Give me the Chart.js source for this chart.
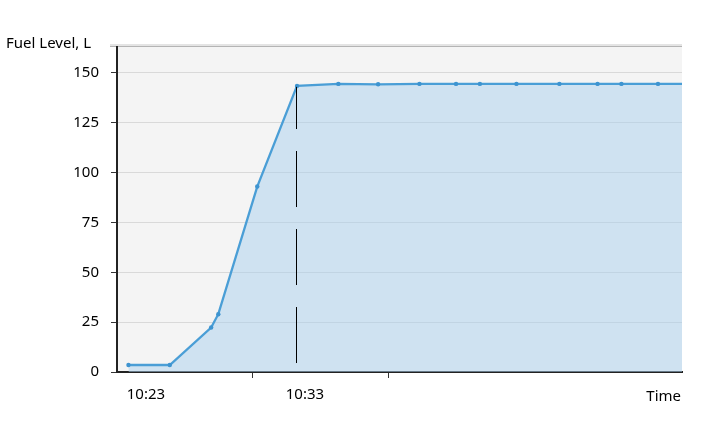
<!DOCTYPE html>
<html>
<head>
<meta charset="utf-8">
<script src="https://cdn.jsdelivr.net/npm/chart.js@4"></script>
<style>
  html, body { margin: 0; padding: 0; background: #fff; }
  #wrap { width: 711px; height: 423px; }
</style>
</head>
<body>
<div id="wrap"><canvas id="myChart" width="711" height="423"></canvas></div>
<script>
// minutes after 10:00
const timeMinutes = [21.9, 24.5, 27.1, 27.55, 30.0, 32.5, 35.1, 37.6, 40.2, 42.5, 44.0, 46.3, 49.0, 51.4, 52.9, 55.2, 57.5];
const fuelLevel = [3.5, 3.5, 22.3, 29, 93, 143.5, 144.5, 144.3, 144.5, 144.5, 144.5, 144.5, 144.5, 144.5, 144.5, 144.5, 144.5];

const xLabelTicks = [23, 33];
const xMarkTicks = [29.68, 38.25];
const yTicks = [0, 25, 50, 75, 100, 125, 150];

// vertical dashed marker
const markerTime = 32.45;
const markerFrom = 4.5;
const markerTo = 143;

const fmtTime = v => '10:' + String(Math.round(v)).padStart(2, '0');

const FONT = '"Noto Sans", "Open Sans", sans-serif';

const plotDecor = {
  id: 'plotDecor',
  beforeDraw(chart) {
    const { ctx, chartArea: a } = chart;
    ctx.save();
    ctx.fillStyle = '#f4f4f4';
    ctx.fillRect(a.left, a.top, a.right - a.left, a.bottom - a.top);
    ctx.fillStyle = '#e4e4e4';
    ctx.fillRect(a.left - 7, a.top - 3, a.right - a.left + 7, 2);
    ctx.fillStyle = '#b4b4b4';
    ctx.fillRect(a.left - 7, a.top - 1, a.right - a.left + 7, 1);
    ctx.restore();
  },
  afterDatasetsDraw(chart) {
    const { ctx, scales: { x, y } } = chart;
    const px = Math.round(x.getPixelForValue(markerTime)) + 0.5;
    ctx.save();
    ctx.strokeStyle = '#000';
    ctx.lineWidth = 1;
    ctx.setLineDash([56, 22]);
    ctx.beginPath();
    ctx.moveTo(px, y.getPixelForValue(markerFrom));
    ctx.lineTo(px, y.getPixelForValue(markerTo));
    ctx.stroke();
    ctx.restore();
  },
  afterDraw(chart) {
    const { ctx } = chart;
    ctx.save();
    ctx.fillStyle = '#000';
    ctx.font = '15px ' + FONT;
    ctx.textBaseline = 'middle';
    ctx.textAlign = 'left';
    ctx.fillText('Fuel Level, L', 6, 44);
    ctx.textAlign = 'right';
    ctx.fillText('Time', 681, 397);
    ctx.restore();
  }
};

new Chart(document.getElementById('myChart'), {
  type: 'line',
  data: {
    datasets: [{
      label: 'Fuel Level',
      data: timeMinutes.map((t, i) => ({ x: t, y: fuelLevel[i] })),
      borderColor: 'rgb(74, 158, 214)',
      backgroundColor: 'rgba(170, 208, 238, 0.5)',
      fill: 'origin',
      borderWidth: 2.3,
      pointRadius: 2.2,
      pointBorderWidth: 0,
      pointBackgroundColor: 'rgb(62, 148, 208)',
      tension: 0
    }]
  },
  options: {
    responsive: false,
    animation: false,
    layout: { padding: { left: 0, right: 29, top: 47, bottom: 0 } },
    plugins: {
      legend: { display: false },
      tooltip: { enabled: false }
    },
    scales: {
      x: {
        type: 'linear',
        min: 21.18,
        max: 56.71,
        afterFit(scale) { scale.height = 51; },
        afterBuildTicks(scale) {
          scale.ticks = [...xLabelTicks, ...xMarkTicks].sort((a, b) => a - b).map(v => ({ value: v }));
        },
        border: { color: '#222', width: 2 },
        grid: {
          drawOnChartArea: false,
          tickLength: 6,
          tickColor: c => xLabelTicks.includes(c.tick && c.tick.value) ? 'rgba(0,0,0,0)' : '#333'
        },
        ticks: {
          autoSkip: false,
          maxRotation: 0,
          padding: 8,
          color: '#000',
          font: { family: FONT, size: 15 },
          callback: v => xLabelTicks.includes(v) ? fmtTime(v) : ''
        }
      },
      y: {
        min: 0,
        max: 163,
        afterFit(scale) { scale.width = 117; },
        afterBuildTicks(scale) {
          scale.ticks = yTicks.map(v => ({ value: v }));
        },
        border: { color: '#222', width: 2 },
        grid: {
          color: '#d9d9d9',
          tickColor: '#333',
          tickLength: 6
        },
        ticks: {
          padding: 12,
          color: '#000',
          font: { family: FONT, size: 15 }
        }
      }
    }
  },
  plugins: [plotDecor]
});
</script>
</body>
</html>
